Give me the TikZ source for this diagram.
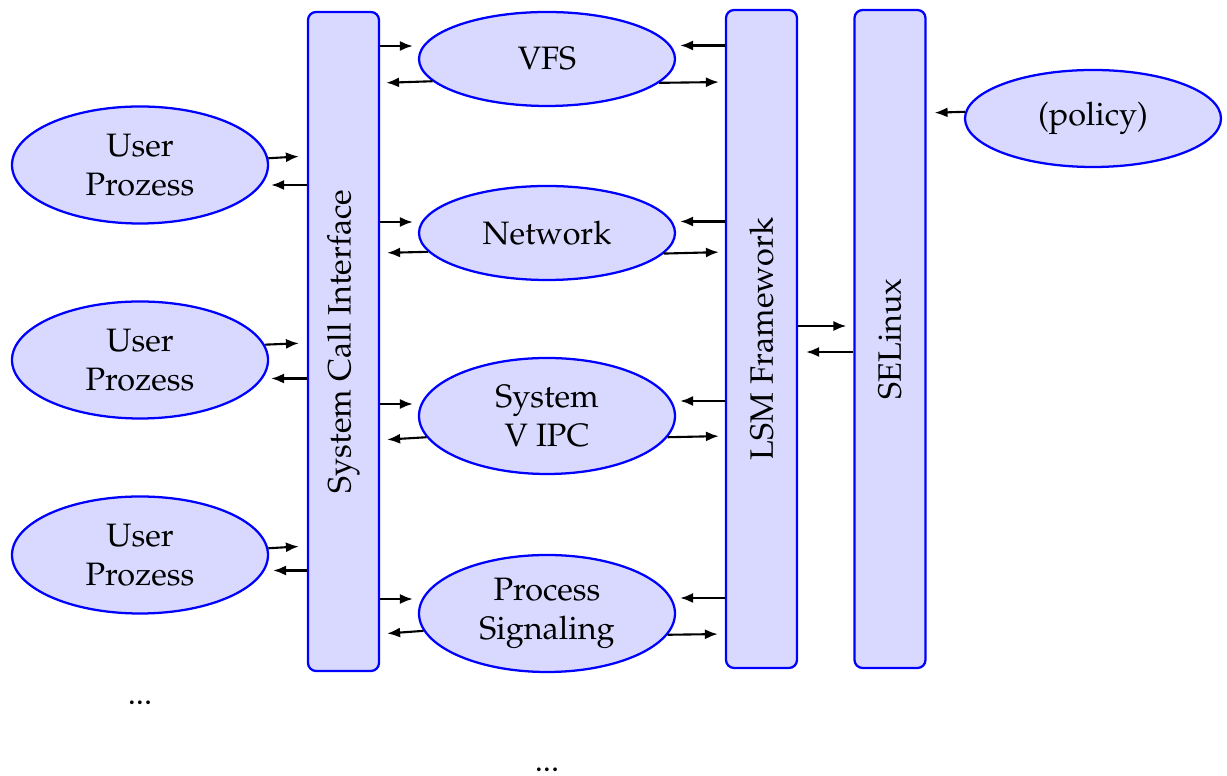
\documentclass[tikz,border=0pt]{standalone}
\usepackage[T1]{fontenc}
\usepackage{mathpazo}
\usetikzlibrary{shapes.geometric,arrows.meta}
% one drawing unit
\newcommand\pxl{0.3086pt}
\begin{document}
\begin{tikzpicture}[x=0.3086pt,y=-0.3086pt,
  proc/.style={ellipse,draw=blue,fill=blue!15,line width=0.7pt,inner sep=0pt,
    minimum width=256*\pxl,align=center},
  layer/.style={rectangle,draw=blue,fill=blue!15,line width=0.7pt,rounded corners=2.5pt,
    inner sep=0pt,minimum width=71*\pxl},
  dots/.style={anchor=base,inner sep=0pt},
  conn/.style={line width=0.65pt,-{Latex[length=4pt,width=3.1pt]}}]
\useasboundingbox (0,0) rectangle (1227,776);

% user processes
\node[proc,minimum height=117*\pxl] (u1) at (140,165) {User\\Prozess};
\node[proc,minimum height=117*\pxl] (u2) at (140,360) {User\\Prozess};
\node[proc,minimum height=117*\pxl] (u3) at (140,555) {User\\Prozess};
\node[dots] (dotsl) at (140,705) {...};

% vertical layers
\node[layer,minimum height=659*\pxl] (sci) at (343.5,341.5) {};
\node[rotate=90] at (sci.center) {System Call Interface};
\node[layer,minimum height=658*\pxl] (lsm) at (761.5,339) {};
\node[rotate=90] at (lsm.center) {LSM Framework};
\node[layer,minimum height=658*\pxl] (se) at (890,339) {};
\node[rotate=90] at (se.center) {SELinux};

% kernel subsystems
\node[proc,minimum height=94*\pxl] (vfs) at (547,59) {VFS};
\node[proc,minimum height=94*\pxl] (net) at (547,233) {Network};
\node[proc,minimum height=116*\pxl] (ipc) at (547,416) {System\\V IPC};
\node[proc,minimum height=117*\pxl] (sig) at (547,613.5) {Process\\Signaling};
\node[dots] (dotsm) at (547,772) {...};

% policy
\node[proc,minimum height=97*\pxl] (pol) at (1093,118.5) {(policy)};

% user processes <-> system call interface
\draw[conn,shorten >=8*\pxl] (u1.3.6) -- (sci.west |- 0,156);
\draw[conn,shorten >=2*\pxl] (sci.west |- 0,185) -- (u1.east |- 0,185);
\draw[conn,shorten >=8*\pxl] (u2.7.1) -- (sci.west |- 0,343);
\draw[conn,shorten >=2*\pxl] (sci.west |- 0,378.5) -- (u2.east |- 0,378.5);
\draw[conn,shorten >=8*\pxl] (u3.3.6) -- (sci.west |- 0,546);
\draw[conn,shorten >=4*\pxl] (sci.west |- 0,570.5) -- (u3.east |- 0,570.5);

% system call interface <-> subsystems
\draw[conn,shorten >=5*\pxl] (sci.east |- 0,46) -- (vfs.west |- 0,46);
\draw[conn,shorten >=6*\pxl] (vfs.191.6) -- (sci.east |- 0,83);
\draw[conn,shorten >=5*\pxl] (sci.east |- 0,222) -- (net.west |- 0,222);
\draw[conn,shorten >=7*\pxl] (net.189.7) -- (sci.east |- 0,253);
\draw[conn,shorten >=5*\pxl] (sci.east |- 0,404) -- (ipc.west |- 0,404);
\draw[conn,shorten >=7*\pxl] (ipc.190.6) -- (sci.east |- 0,440);
\draw[conn,shorten >=5*\pxl] (sci.east |- 0,599) -- (sig.west |- 0,599);
\draw[conn,shorten >=7*\pxl] (sig.188.5) -- (sci.east |- 0,634);

% subsystems <-> LSM framework
\draw[conn,shorten >=4*\pxl] (lsm.west |- 0,45.5) -- (vfs.east |- 0,45.5);
\draw[conn,shorten >=6*\pxl] (vfs.348.5) -- (lsm.west |- 0,82);
\draw[conn,shorten >=4*\pxl] (lsm.west |- 0,221.5) -- (net.east |- 0,221.5);
\draw[conn,shorten >=6*\pxl] (net.350.2) -- (lsm.west |- 0,252);
\draw[conn,shorten >=4*\pxl] (lsm.west |- 0,401) -- (ipc.east |- 0,401);
\draw[conn,shorten >=6*\pxl] (ipc.350.1) -- (lsm.west |- 0,436);
\draw[conn,shorten >=4*\pxl] (lsm.west |- 0,598) -- (sig.east |- 0,598);
\draw[conn,shorten >=7*\pxl] (sig.350.5) -- (lsm.west |- 0,634);

% LSM framework <-> SELinux <- policy
\draw[conn,shorten >=7*\pxl] (lsm.east |- 0,326) -- (se.west |- 0,326);
\draw[conn,shorten >=8*\pxl] (se.west |- 0,352) -- (lsm.east |- 0,352);
\draw[conn,shorten >=8*\pxl] (pol.177.8) -- (se.east |- 0,113);
\end{tikzpicture}
\end{document}
